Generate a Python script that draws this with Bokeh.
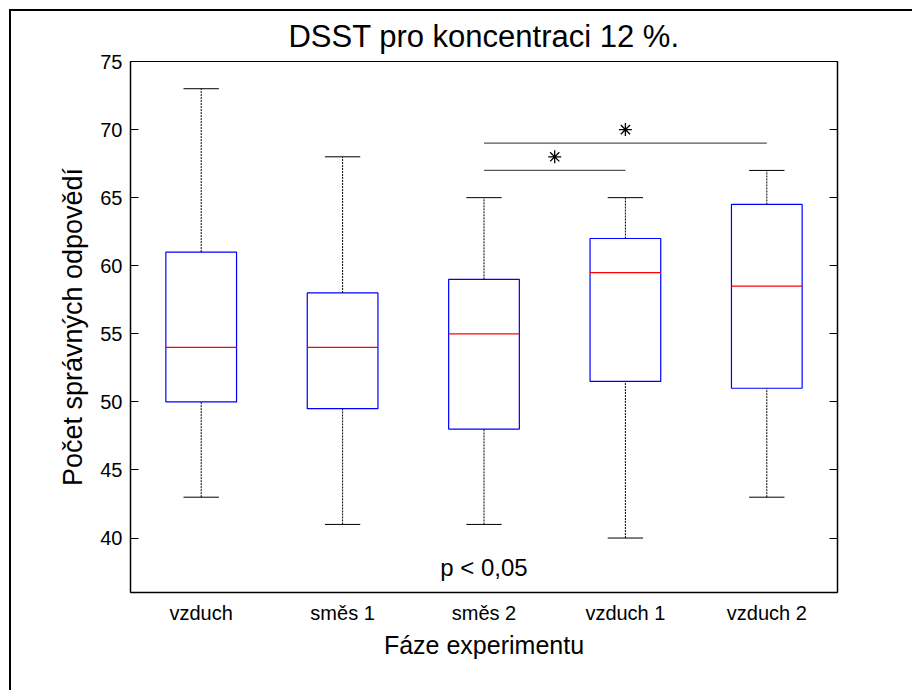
from bokeh.plotting import figure
from bokeh.models import LinearAxis, FixedTicker, Range1d
from bokeh.core.properties import value
from bokeh.embed import file_html
from bokeh.resources import INLINE

categories = ["vzduch", "směs 1", "směs 2", "vzduch 1", "vzduch 2"]
positions = [1, 2, 3, 4, 5]
lower_whisker = [43, 41, 41, 40, 43]
q1 = [50, 49.5, 48, 51.5, 51]
median = [54, 54, 55, 59.5, 58.5]
q3 = [61, 58, 59, 62, 64.5]
upper_whisker = [73, 68, 65, 65, 67]

# significance brackets: (from position, to position, y level)
sig_from = [3, 3]
sig_to = [4, 5]
sig_y = [67, 69]
star_x = [3.5, 4]
star_y = [68, 70]
p_text_x = [3]
p_text_y = [37.8]
p_text = ["p < 0,05"]

y_ticks = [40, 45, 50, 55, 60, 65, 70, 75]

FONT = "Liberation Sans"

frame_css = """
:host::after {
  content: "";
  position: absolute;
  left: 9px;
  top: 9px;
  width: 903px;
  height: 681px;
  box-sizing: border-box;
  border-left: 2px solid #000;
  border-top: 2px solid #000;
  pointer-events: none;
  z-index: 100;
}
"""

p = figure(width=912, height=690, output_backend="svg", toolbar_location=None,
           x_range=Range1d(0.5, 5.5), y_range=Range1d(36, 75),
           min_border_left=130, min_border_right=75, min_border_top=61, min_border_bottom=98,
           title="DSST pro koncentraci 12 %.", stylesheets=[frame_css])
p.background_fill_color = "white"
p.border_fill_color = "white"
p.outline_line_color = "black"
p.outline_line_width = 1
p.grid.visible = False

p.title.text_font = FONT
p.title.text_font_size = "31px"
p.title.text_font_style = "normal"
p.title.text_color = "black"
p.title.align = "center"
p.title.standoff = 16

# axes
xa = p.xaxis[0]
xa.ticker = FixedTicker(ticks=positions)
xa.major_label_overrides = {pos: c for pos, c in zip(positions, categories)}
xa.major_tick_in = 0
xa.major_tick_out = 0
xa.minor_tick_in = 0
xa.minor_tick_out = 0
xa.axis_line_color = "black"
xa.axis_line_width = 1.5
xa.major_label_text_font = FONT
xa.major_label_text_font_size = "20px"
xa.major_label_text_color = "black"
xa.major_label_standoff = 9
xa.axis_label = "Fáze experimentu"
xa.axis_label_text_font = FONT
xa.axis_label_text_font_size = "25px"
xa.axis_label_text_font_style = "normal"
xa.axis_label_text_color = "black"
xa.axis_label_standoff = 4

ya = p.yaxis[0]
ya.ticker = FixedTicker(ticks=y_ticks)
ya.major_tick_in = 8
ya.major_tick_out = 0
ya.minor_tick_in = 0
ya.minor_tick_out = 0
ya.axis_line_color = "black"
ya.axis_line_width = 1.5
ya.major_label_text_font = FONT
ya.major_label_text_font_size = "20px"
ya.major_label_text_color = "black"
ya.major_label_standoff = 8
ya.axis_label = "Počet správných odpovědí"
ya.axis_label_text_font = FONT
ya.axis_label_text_font_size = "27px"
ya.axis_label_text_font_style = "normal"
ya.axis_label_text_color = "black"
ya.axis_label_standoff = 9

ra = LinearAxis(ticker=FixedTicker(ticks=y_ticks))
ra.major_tick_in = 8
ra.major_tick_out = 0
ra.minor_tick_in = 0
ra.minor_tick_out = 0
ra.major_label_text_alpha = 0
ra.major_label_text_font_size = "1px"
ra.axis_line_color = "black"
ra.axis_line_width = 1.5
p.add_layout(ra, "right")

# boxes
left = [x - 0.25 for x in positions]
right = [x + 0.25 for x in positions]
p.quad(left=left, right=right, bottom=q1, top=q3, fill_color=None,
       line_color="#0000ff", line_width=1.2)
# medians
p.segment(x0=left, x1=right, y0=median, y1=median, line_color="#ff0000", line_width=1.2)
# whiskers
p.segment(x0=positions, x1=positions, y0=q3, y1=upper_whisker,
          line_color="black", line_width=1, line_dash="2 1")
p.segment(x0=positions, x1=positions, y0=lower_whisker, y1=q1,
          line_color="black", line_width=1, line_dash="2 1")
# caps
cl = [x - 0.125 for x in positions]
cr = [x + 0.125 for x in positions]
p.segment(x0=cl, x1=cr, y0=upper_whisker, y1=upper_whisker, line_color="black", line_width=1)
p.segment(x0=cl, x1=cr, y0=lower_whisker, y1=lower_whisker, line_color="black", line_width=1)

# significance
p.segment(x0=sig_from, x1=sig_to, y0=sig_y, y1=sig_y, line_color="#555555", line_width=1.3)
p.scatter(x=star_x, y=star_y, marker="asterisk", size=13, line_color="black", line_width=1.3)

p.text(x=p_text_x, y=p_text_y, text=p_text, text_font=value(FONT), text_font_size="24px",
       text_align="center", text_baseline="middle", text_color="black")

open("out.html", "w").write(file_html(p, INLINE))
